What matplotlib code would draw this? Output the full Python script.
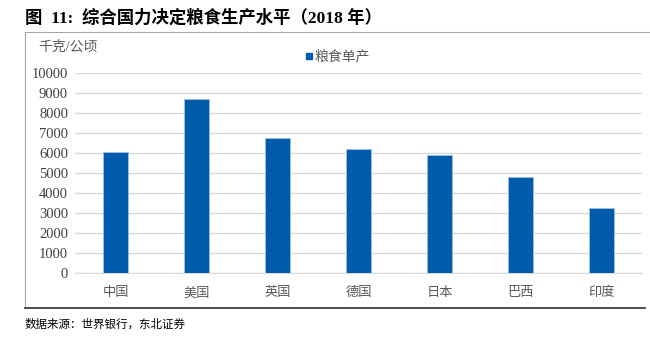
import matplotlib
matplotlib.use("Agg")
import matplotlib.pyplot as plt
from matplotlib.lines import Line2D
from matplotlib.patches import Rectangle

plt.rcParams['font.family'] = ['Liberation Serif', 'Noto Sans CJK SC', 'DejaVu Sans']

countries = ["中国", "美国", "英国", "德国", "日本", "巴西", "印度"]
yield_values = [6050, 8700, 6750, 6200, 5900, 4790, 3250]
y_ticks = list(range(0, 10001, 1000))

fig = plt.figure(figsize=(6.5, 3.45), dpi=100)

# title and source
fig.text(25 / 650, 1 - 18 / 345, "图  11:  综合国力决定粮食生产水平（2018 年）",
         fontsize=12.5, fontweight="bold", va="center", ha="left", color="black")
fig.text(25 / 650, 1 - 325 / 345, "数据来源：世界银行，东北证券",
         fontsize=8.3, va="center", ha="left", color="black")

# frame lines
fig.add_artist(Line2D([25 / 650, 1.0], [1 - 32 / 345, 1 - 32 / 345], color="#a6a6a6", lw=0.8))
fig.add_artist(Line2D([25 / 650, 25 / 650], [1 - 32 / 345, 1 - 308 / 345], color="#a6a6a6", lw=0.8))
fig.add_artist(Line2D([25 / 650, 645 / 650], [1 - 308 / 345, 1 - 308 / 345], color="#404040", lw=1.3))

ax = fig.add_axes([75 / 650, 1 - 273 / 345, 567 / 650, 200 / 345])
x = list(range(len(countries)))
ax.bar(x, yield_values, width=0.31, color="#005bac", edgecolor="#9dc3e6", linewidth=0.6,
       label="粮食单产", zorder=3)
ax.set_xlim(-0.5, len(countries) - 0.5)
ax.set_ylim(0, 10000)
ax.set_yticks(y_ticks)
ax.set_yticklabels([str(v) for v in y_ticks], fontsize=10.5, color="#404040")
ax.set_xticks(x)
ax.set_xticklabels(countries, fontsize=9.5, color="#595959")
ax.tick_params(axis="both", length=0, pad=5)
ax.tick_params(axis="x", pad=10)
ax.grid(axis="y", color="#d9d9d9", lw=1, zorder=0)
for s in ["top", "right", "left"]:
    ax.spines[s].set_visible(False)
ax.spines["bottom"].set_color("#d9d9d9")

fig.text(38 / 650, 1 - 47 / 345, "千克/公顷", fontsize=10, color="#595959", va="center", ha="left")

fig.add_artist(Rectangle((306 / 650, 1 - 59 / 345), 6 / 650, 6 / 345, color="#005bac"))
fig.text(315 / 650, 1 - 56 / 345, "粮食单产", fontsize=10, color="#595959", va="center", ha="left")

fig.savefig("out.png", dpi=100)
